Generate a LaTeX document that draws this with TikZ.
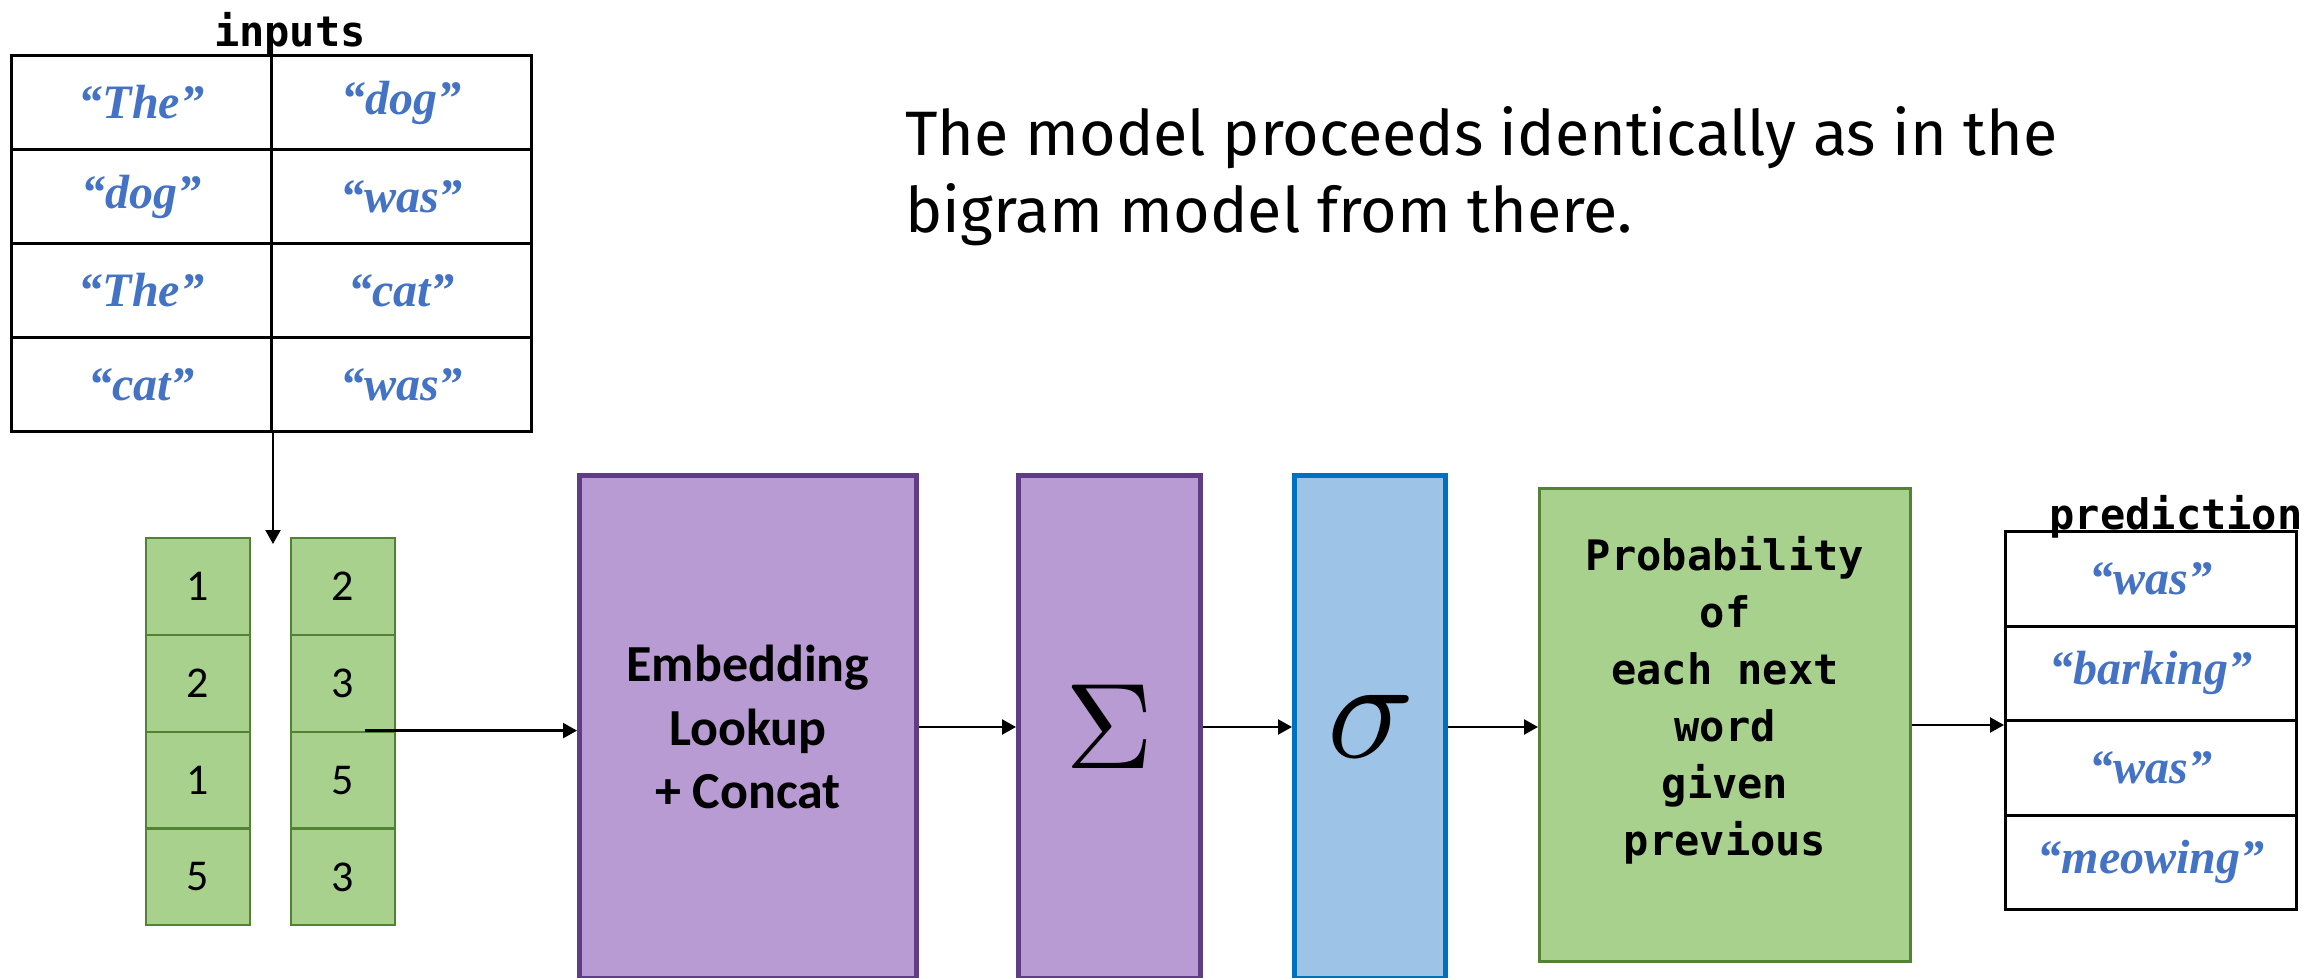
\documentclass[tikz,border=0pt]{standalone}
\usepackage{fontspec}
\usepackage{unicode-math}
\setmathfont{Latin Modern Math}
\newfontfamily\codefont{DejaVu Sans Mono}
\newfontfamily\calfont{Carlito}
\newfontfamily\titlefont{Fira Sans}
\newfontfamily\wordserif{Liberation Serif}
\usetikzlibrary{arrows.meta}

\definecolor{wordblue}{RGB}{68,114,196}
\definecolor{grnfill}{RGB}{169,209,142}
\definecolor{grnline}{RGB}{84,130,53}
\definecolor{purpfill}{RGB}{185,155,211}
\definecolor{purpline}{RGB}{96,60,135}
\definecolor{bluefill}{RGB}{157,195,230}
\definecolor{blueline}{RGB}{0,112,192}

\newcommand{\wordfont}{\color{wordblue}\wordserif\bfseries\itshape\fontsize{24}{28}\selectfont}
\newcommand{\labelfont}{\codefont\bfseries\fontsize{21}{28.5}\selectfont}

\begin{document}
\begin{tikzpicture}[x=0.5pt,y=0.5pt,yscale=-1,xscale=1,
  cellbox/.style={draw=black, line width=1.5pt, anchor=north west, inner sep=0pt,
    minimum width=130pt, minimum height=47pt, font=\wordfont},
  idxbox/.style={draw=grnline, fill=grnfill, line width=1.1pt, anchor=north west, inner sep=0pt,
    minimum width=52pt, minimum height=48.4pt, font=\calfont\fontsize{22}{26}\selectfont},
  layerbox/.style={line width=2.3pt, anchor=north west, inner sep=0pt, minimum height=251.7pt},
  arr/.style={-{Triangle[length=7pt,width=7.5pt]}, line width=1.2pt}]
\useasboundingbox (0,0) rectangle (2313,978);
\clip (0,0) rectangle (2313,978);

%Shape: Table of inputs
\node [cellbox] (in-1-1) at (10,54) {“The”};
\node [cellbox] (in-1-2) at (270,54) {“dog”};
\node [cellbox] (in-2-1) at (10,148) {“dog”};
\node [cellbox] (in-2-2) at (270,148) {“was”};
\node [cellbox] (in-3-1) at (10,242) {“The”};
\node [cellbox] (in-3-2) at (270,242) {“cat”};
\node [cellbox] (in-4-1) at (10,336) {“cat”};
\node [cellbox] (in-4-2) at (270,336) {“was”};
% Text Node
\node [font=\labelfont, anchor=base] (in-label) at (290,47) {inputs};

%Shape: Index columns
\node [idxbox] (idx-1-1) at (145,537) {1};
\node [idxbox] (idx-2-1) at (145,633.8) {2};
\node [idxbox] (idx-3-1) at (145,730.6) {1};
\node [idxbox] (idx-4-1) at (145,827.4) {5};
\node [idxbox] (idx-1-2) at (290,537) {2};
\node [idxbox] (idx-2-2) at (290,633.8) {3};
\node [idxbox] (idx-3-2) at (290,730.6) {5};
\node [idxbox] (idx-4-2) at (290,827.4) {3};

%Shape: Rectangle
\node [layerbox, draw=purpline, fill=purpfill, minimum width=168.7pt, align=center,
  font=\calfont\bfseries\fontsize{26}{31.75}\selectfont] (embed) at (577,473) {Embedding\\Lookup\\+ Concat};
%Shape: Rectangle
\node [layerbox, draw=purpline, fill=purpfill, minimum width=91.2pt,
  font=\fontsize{61}{70}\selectfont] (sigma) at (1016,473) {$\Sigma$};
%Shape: Rectangle
\node [layerbox, draw=blueline, fill=bluefill, minimum width=75.7pt,
  font=\fontsize{72}{80}\selectfont] (soft) at (1292,473) {\raisebox{-8pt}{$\sigma$}};
%Shape: Rectangle
\node [draw=grnline, fill=grnfill, line width=1.5pt, anchor=north west, inner sep=0pt,
  minimum width=185.5pt, minimum height=236.5pt] (prob) at (1538,487) {};
% Text Node
\node [font=\labelfont, align=center, inner sep=0pt] (prob-label) at (1725,700) {Probability\\of\\each next\\word\\given\\previous};

%Shape: Table of predictions
\node [cellbox, minimum width=145.5pt, minimum height=47.25pt] (pred-1) at (2004,530) {“was”};
\node [cellbox, minimum width=145.5pt, minimum height=47.25pt] (pred-2) at (2004,624.5) {“barking”};
\node [cellbox, minimum width=145.5pt, minimum height=47.25pt] (pred-3) at (2004,719) {“was”};
\node [cellbox, minimum width=145.5pt, minimum height=47.25pt] (pred-4) at (2004,813.5) {“meowing”};
% Text Node
\node [font=\labelfont, anchor=base] (pred-label) at (2176,529) {prediction};

% Text Node
\node [anchor=north west, align=left, inner sep=0pt,
  font=\titlefont\fontsize{31.4}{38.5}\selectfont] (note) at (905,106) {The model proceeds identically as in the\\bigram model from there.};

%Straight Lines
\coordinate (flow) at (0,727);
\coordinate (idxtop) at (0,544);
\draw [arr] (in-4-1.south east) -- (in-4-1.south east |- idxtop);
\draw [arr] ([xshift=11pt]idx-3-2.north) -- (embed.west |- idx-3-2.north);
\draw [arr] (embed.east |- flow) -- (sigma.west |- flow);
\draw [arr] (sigma.east |- flow) -- (soft.west |- flow);
\draw [arr] (soft.east |- flow) -- (prob.west |- flow);
\draw [arr] (prob.east) -- (prob.east -| pred-3.west);

\end{tikzpicture}
\end{document}
